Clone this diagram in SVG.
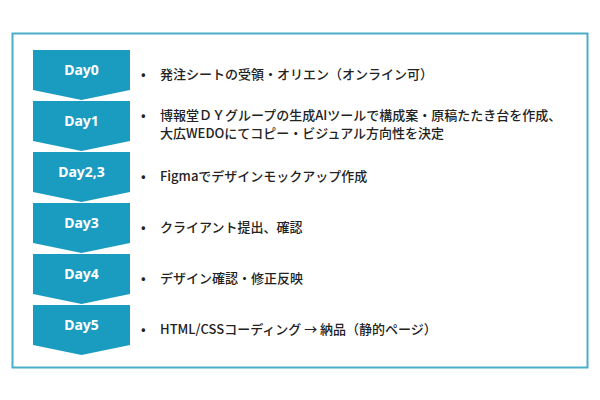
<svg xmlns="http://www.w3.org/2000/svg" width="600" height="400" viewBox="0 0 600 400">
<style>
.c{fill:#1a9cc1}
.d{fill:#fff;font:bold 14px "Noto Sans","Open Sans",sans-serif;text-anchor:middle}
.t{fill:#222;font:500 13px "Noto Sans CJK JP","Noto Sans",sans-serif}
</style>
<rect width="600" height="400" fill="#fff"/>
<rect x="12.5" y="33.5" width="575" height="334" fill="#fff" stroke="#4aaec8" stroke-width="2"/>
<g id="day0"><polygon class="c" points="33,50 130,50 130,90 81.5,100 33,90"/><text class="d" x="81.5" y="75">Day0</text><text class="t" x="141" y="79">•</text><text class="t" x="160" y="79">発注シートの受領・オリエン（オンライン可）</text></g>
<g id="day1"><polygon class="c" points="33,101 130,101 130,141 81.5,151 33,141"/><text class="d" x="81.5" y="126">Day1</text><text class="t" x="141" y="120">•</text><text class="t" x="160" y="120">博報堂ＤＹグループの生成AIツールで構成案・原稿たたき台を作成、</text><text class="t" x="160" y="138">大広WEDOにてコピー・ビジュアル方向性を決定</text></g>
<g id="day23"><polygon class="c" points="33,152 130,152 130,192 81.5,202 33,192"/><text class="d" x="81.5" y="177">Day2,3</text><text class="t" x="141" y="181">•</text><text class="t" x="160" y="181">Figmaでデザインモックアップ作成</text></g>
<g id="day3"><polygon class="c" points="33,203 130,203 130,243 81.5,253 33,243"/><text class="d" x="81.5" y="228">Day3</text><text class="t" x="141" y="232">•</text><text class="t" x="160" y="232">クライアント提出、確認</text></g>
<g id="day4"><polygon class="c" points="33,254 130,254 130,294 81.5,304 33,294"/><text class="d" x="81.5" y="279">Day4</text><text class="t" x="141" y="283">•</text><text class="t" x="160" y="283">デザイン確認・修正反映</text></g>
<g id="day5"><polygon class="c" points="33,305 130,305 130,345 81.5,355 33,345"/><text class="d" x="81.5" y="330">Day5</text><text class="t" x="141" y="334">•</text><text class="t" x="160" y="334">HTML/CSSコーディング → 納品（静的ページ）</text></g>
<g id="connectors"/>
</svg>
